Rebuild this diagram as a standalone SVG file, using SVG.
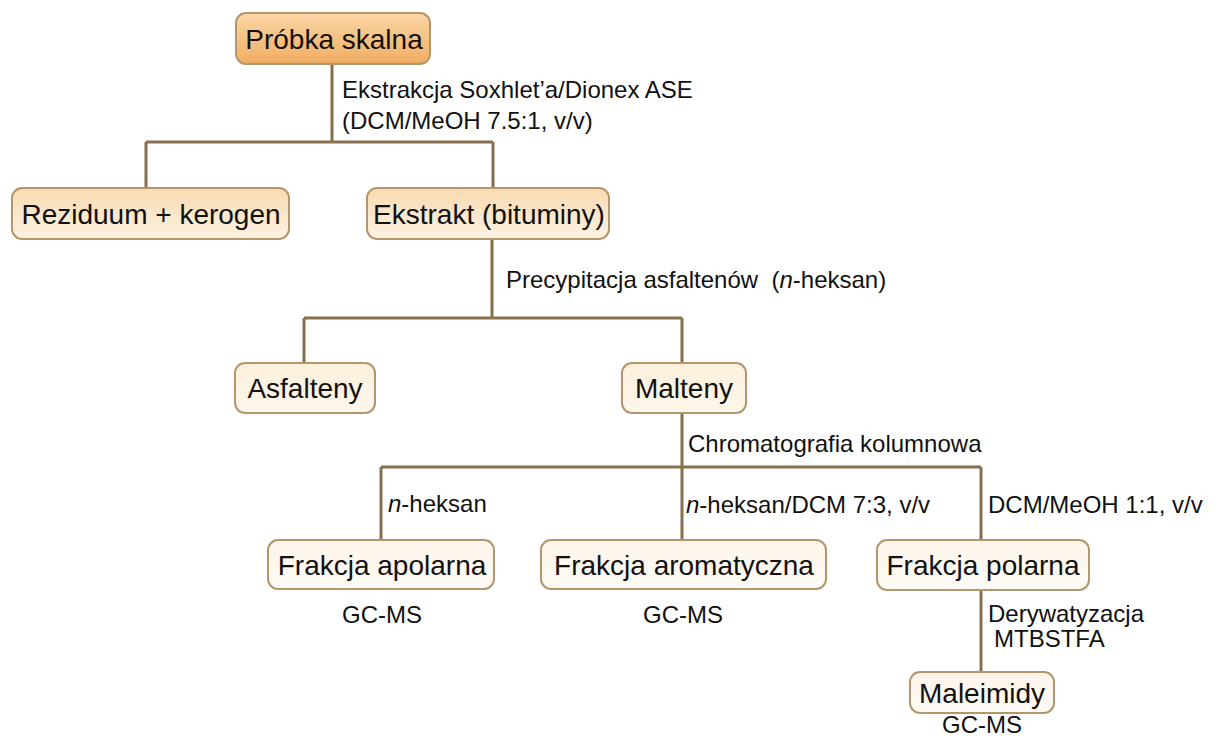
<svg xmlns="http://www.w3.org/2000/svg" width="1224" height="736" viewBox="0 0 1224 736">
<defs>
<linearGradient id="g1" x1="0" y1="0" x2="0" y2="1"><stop offset="0" stop-color="#fbd6a6"/><stop offset="1" stop-color="#f0ad62"/></linearGradient>
<linearGradient id="g2" x1="0" y1="0" x2="0" y2="1"><stop offset="0" stop-color="#f8dab0"/><stop offset="1" stop-color="#fdf2e3"/></linearGradient>
<linearGradient id="g3" x1="0" y1="0" x2="0" y2="1"><stop offset="0" stop-color="#fcf0dc"/><stop offset="1" stop-color="#fdf6ea"/></linearGradient>
<linearGradient id="g4" x1="0" y1="0" x2="0" y2="1"><stop offset="0" stop-color="#fdf5ea"/><stop offset="1" stop-color="#fdfaf5"/></linearGradient>
</defs>
<style>
.box{stroke:#b5966c;stroke-width:2}
.t{font-family:"Liberation Sans",Arial,sans-serif;font-size:28px;fill:#111;text-anchor:middle}
.l{font-family:"Liberation Sans",Arial,sans-serif;font-size:24px;fill:#111}
.c{fill:none;stroke:#86704f;stroke-width:3}
</style>
<rect width="1224" height="736" fill="#ffffff"/>
<g id="connectors">
<path class="c" d="M332,64 V142 M146,142 H493 M146,142 V188 M493,142 V188"/>
<path class="c" d="M492,240 V318 M304,318 H682 M304,318 V363 M682,318 V363"/>
<path class="c" d="M682,413 V467 M381,467 H981 M381,467 V540 M682,467 V540 M981,467 V540"/>
<path class="c" d="M981,590 V672"/>
</g>
<g id="labels">
<text class="l" x="342" y="98">Ekstrakcja Soxhlet’a/Dionex ASE</text>
<text class="l" x="342" y="129">(DCM/MeOH 7.5:1, v/v)</text>
<text class="l" x="506" y="288" xml:space="preserve">Precypitacja asfaltenów  (<tspan font-style="italic">n</tspan>-heksan)</text>
<text class="l" x="688" y="452">Chromatografia kolumnowa</text>
<text class="l" x="388" y="512"><tspan font-style="italic">n</tspan>-heksan</text>
<text class="l" x="686" y="513"><tspan font-style="italic">n</tspan>-heksan/DCM 7:3, v/v</text>
<text class="l" x="988" y="513">DCM/MeOH 1:1, v/v</text>
<text class="l" x="988" y="622">Derywatyzacja</text>
<text class="l" x="994" y="647">MTBSTFA</text>
<text class="l" x="382" y="623" text-anchor="middle">GC-MS</text>
<text class="l" x="683" y="623" text-anchor="middle">GC-MS</text>
<text class="l" x="982" y="733" text-anchor="middle">GC-MS</text>
</g>
<g id="n-probka"><rect class="box" x="236" y="13" width="194" height="51" rx="10" fill="url(#g1)"/><text class="t" x="334" y="49">Próbka skalna</text></g>
<g id="n-reziduum"><rect class="box" x="12" y="188" width="277" height="51" rx="10" fill="url(#g2)"/><text class="t" x="151" y="224">Reziduum + kerogen</text></g>
<g id="n-ekstrakt"><rect class="box" x="367" y="188" width="242" height="51" rx="10" fill="url(#g2)"/><text class="t" x="489" y="224">Ekstrakt (bituminy)</text></g>
<g id="n-asfalteny"><rect class="box" x="235" y="363" width="140" height="50" rx="10" fill="url(#g3)"/><text class="t" x="305" y="398">Asfalteny</text></g>
<g id="n-malteny"><rect class="box" x="622" y="363" width="124" height="50" rx="10" fill="url(#g3)"/><text class="t" x="684" y="398">Malteny</text></g>
<g id="n-apolarna"><rect class="box" x="268" y="540" width="226" height="49" rx="10" fill="url(#g4)"/><text class="t" x="382" y="575">Frakcja apolarna</text></g>
<g id="n-aromatyczna"><rect class="box" x="541" y="540" width="285" height="49" rx="10" fill="url(#g4)"/><text class="t" x="684" y="575">Frakcja aromatyczna</text></g>
<g id="n-polarna"><rect class="box" x="877" y="540" width="212" height="50" rx="10" fill="url(#g4)"/><text class="t" x="983" y="575">Frakcja polarna</text></g>
<g id="n-maleimidy"><rect class="box" x="910" y="672" width="144" height="41" rx="10" fill="url(#g4)"/><text class="t" x="982" y="703">Maleimidy</text></g>
</svg>
